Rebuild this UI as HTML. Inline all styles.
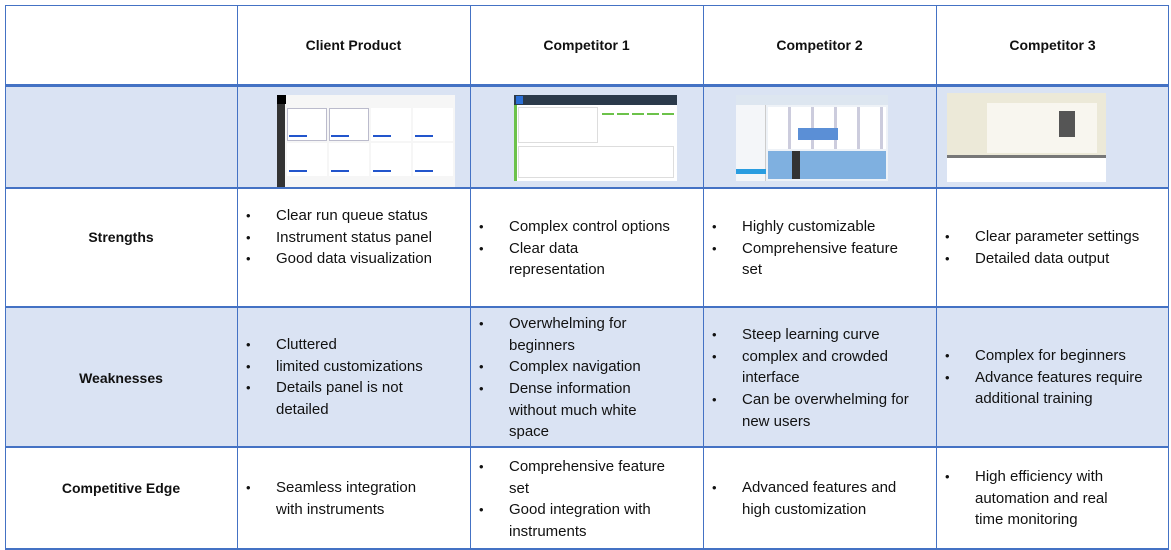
<!DOCTYPE html>
<html><head><meta charset="utf-8"><style>
*{margin:0;padding:0;box-sizing:border-box}
body{width:1171px;height:550px;background:#fff;position:relative;overflow:hidden;font-family:"Liberation Sans",sans-serif;color:#111}
.band{position:absolute;left:5px;width:1164px;background:#dae3f3}
.h{position:absolute;background:#4472c4}
.v{position:absolute;background:#4472c4;width:1px;top:5px;height:545px}
.t{position:absolute;font-size:15px;line-height:20px;white-space:nowrap}
.b{position:absolute;font-size:14px;font-weight:bold;text-align:center;line-height:20px}
.dot{position:absolute;font-size:13px;line-height:20px}
.img{position:absolute;background:#fff;overflow:hidden}
</style></head><body>
<div class="band" style="top:86px;height:102px"></div>
<div class="band" style="top:307px;height:140px"></div>
<div class="h" style="left:5px;width:1164px;top:5px;height:1px"></div>
<div class="h" style="left:5px;width:1164px;top:84px;height:3px"></div>
<div class="h" style="left:5px;width:1164px;top:187px;height:2px"></div>
<div class="h" style="left:5px;width:1164px;top:306px;height:2px"></div>
<div class="h" style="left:5px;width:1164px;top:446px;height:2px"></div>
<div class="h" style="left:5px;width:1164px;top:548px;height:2px"></div>
<div class="v" style="left:5px"></div>
<div class="v" style="left:237px"></div>
<div class="v" style="left:470px"></div>
<div class="v" style="left:703px"></div>
<div class="v" style="left:936px"></div>
<div class="v" style="left:1168px"></div>

<div class="b" style="left:237px;width:233px;top:35px">Client Product</div>
<div class="b" style="left:470px;width:233px;top:35px">Competitor 1</div>
<div class="b" style="left:703px;width:233px;top:35px">Competitor 2</div>
<div class="b" style="left:936px;width:233px;top:35px">Competitor 3</div>
<div class="b" style="left:5px;width:232px;top:227px">Strengths</div>
<div class="b" style="left:5px;width:232px;top:368px">Weaknesses</div>
<div class="b" style="left:5px;width:232px;top:478px">Competitive Edge</div>

<!-- images -->
<div class="img" style="left:277px;top:95px;width:178px;height:92px;background:#f6f6f6">
 <div style="position:absolute;left:0;top:0;width:9px;height:9px;background:#000"></div>
 <div style="position:absolute;left:0;top:9px;width:8px;height:83px;background:#333"></div>
 <div style="position:absolute;left:10px;top:13px;width:40px;height:33px;background:#fff;border:1px solid #bbc"></div>
 <div style="position:absolute;left:52px;top:13px;width:40px;height:33px;background:#fff;border:1px solid #bbc"></div>
 <div style="position:absolute;left:94px;top:13px;width:40px;height:33px;background:#fff"></div>
 <div style="position:absolute;left:136px;top:13px;width:40px;height:33px;background:#fff"></div>
 <div style="position:absolute;left:10px;top:48px;width:40px;height:33px;background:#fff"></div>
 <div style="position:absolute;left:52px;top:48px;width:40px;height:33px;background:#fff"></div>
 <div style="position:absolute;left:94px;top:48px;width:40px;height:33px;background:#fff"></div>
 <div style="position:absolute;left:136px;top:48px;width:40px;height:33px;background:#fff"></div>
 <div style="position:absolute;left:12px;top:40px;width:160px;height:2px;background:repeating-linear-gradient(90deg,#2255cc 0 18px,transparent 18px 42px)"></div>
 <div style="position:absolute;left:12px;top:75px;width:160px;height:2px;background:repeating-linear-gradient(90deg,#2255cc 0 18px,transparent 18px 42px)"></div>
</div>
<div class="img" style="left:514px;top:95px;width:163px;height:86px">
 <div style="position:absolute;left:0;top:0;width:163px;height:10px;background:#2b3a4a"></div>
 <div style="position:absolute;left:2px;top:1px;width:7px;height:8px;background:#2a6fd6"></div>
 <div style="position:absolute;left:0;top:10px;width:3px;height:76px;background:#6cc24a"></div>
 <div style="position:absolute;left:4px;top:12px;width:80px;height:36px;border:1px solid #ddd"></div>
 <div style="position:absolute;left:88px;top:18px;width:72px;height:2px;background:repeating-linear-gradient(90deg,#6cc24a 0 12px,transparent 12px 15px)"></div>
 <div style="position:absolute;left:4px;top:51px;width:156px;height:32px;border:1px solid #ddd"></div>
</div>
<div class="img" style="left:736px;top:95px;width:152px;height:86px;background:#eef2f7">
 <div style="position:absolute;left:0;top:0;width:152px;height:10px;background:#dde6f0"></div>
 <div style="position:absolute;left:0;top:10px;width:30px;height:76px;background:#f4f6f9;border-right:1px solid #ccc"></div>
 <div style="position:absolute;left:32px;top:12px;width:118px;height:42px;background:repeating-linear-gradient(90deg,#fff 0 20px,#ccd 20px 23px)"></div>
 <div style="position:absolute;left:62px;top:33px;width:40px;height:12px;background:#5b8fd6"></div>
 <div style="position:absolute;left:32px;top:56px;width:118px;height:28px;background:#7fb0e0"></div>
 <div style="position:absolute;left:56px;top:56px;width:8px;height:28px;background:#333"></div>
 <div style="position:absolute;left:0;top:74px;width:30px;height:5px;background:#2a9de0"></div>
</div>
<div class="img" style="left:947px;top:93px;width:159px;height:89px;background:#fff">
 <div style="position:absolute;left:0;top:0;width:159px;height:62px;background:#ece9d8"></div>
 <div style="position:absolute;left:40px;top:10px;width:110px;height:50px;background:#f8f6ef"></div>
 <div style="position:absolute;left:112px;top:18px;width:16px;height:26px;background:#555"></div>
 <div style="position:absolute;left:0;top:62px;width:159px;height:3px;background:#777"></div>
</div>

<!-- Strengths -->
<div class="dot" style="left:246px;top:206px">•</div><div class="t" style="left:276px;top:206px">Clear run queue status</div>
<div class="dot" style="left:246px;top:228px">•</div><div class="t" style="left:276px;top:228px">Instrument status panel</div>
<div class="dot" style="left:246px;top:249px">•</div><div class="t" style="left:276px;top:249px">Good data visualization</div>

<div class="dot" style="left:479px;top:217px">•</div><div class="t" style="left:509px;top:217px">Complex control options</div>
<div class="dot" style="left:479px;top:239px">•</div><div class="t" style="left:509px;top:239px">Clear data</div>
<div class="t" style="left:509px;top:260px">representation</div>

<div class="dot" style="left:712px;top:217px">•</div><div class="t" style="left:742px;top:217px">Highly customizable</div>
<div class="dot" style="left:712px;top:239px">•</div><div class="t" style="left:742px;top:239px">Comprehensive feature</div>
<div class="t" style="left:742px;top:260px">set</div>

<div class="dot" style="left:945px;top:227px">•</div><div class="t" style="left:975px;top:227px">Clear parameter settings</div>
<div class="dot" style="left:945px;top:249px">•</div><div class="t" style="left:975px;top:249px">Detailed data output</div>

<!-- Weaknesses -->
<div class="dot" style="left:246px;top:335px">•</div><div class="t" style="left:276px;top:335px">Cluttered</div>
<div class="dot" style="left:246px;top:357px">•</div><div class="t" style="left:276px;top:357px">limited customizations</div>
<div class="dot" style="left:246px;top:378px">•</div><div class="t" style="left:276px;top:378px">Details panel is not</div>
<div class="t" style="left:276px;top:400px">detailed</div>

<div class="dot" style="left:479px;top:314px">•</div><div class="t" style="left:509px;top:314px">Overwhelming for</div>
<div class="t" style="left:509px;top:336px">beginners</div>
<div class="dot" style="left:479px;top:357px">•</div><div class="t" style="left:509px;top:357px">Complex navigation</div>
<div class="dot" style="left:479px;top:379px">•</div><div class="t" style="left:509px;top:379px">Dense information</div>
<div class="t" style="left:509px;top:401px">without much white</div>
<div class="t" style="left:509px;top:422px">space</div>

<div class="dot" style="left:712px;top:325px">•</div><div class="t" style="left:742px;top:325px">Steep learning curve</div>
<div class="dot" style="left:712px;top:347px">•</div><div class="t" style="left:742px;top:347px">complex and crowded</div>
<div class="t" style="left:742px;top:368px">interface</div>
<div class="dot" style="left:712px;top:390px">•</div><div class="t" style="left:742px;top:390px">Can be overwhelming for</div>
<div class="t" style="left:742px;top:412px">new users</div>

<div class="dot" style="left:945px;top:346px">•</div><div class="t" style="left:975px;top:346px">Complex for beginners</div>
<div class="dot" style="left:945px;top:368px">•</div><div class="t" style="left:975px;top:368px">Advance features require</div>
<div class="t" style="left:975px;top:389px">additional training</div>

<!-- Edge -->
<div class="dot" style="left:246px;top:478px">•</div><div class="t" style="left:276px;top:478px">Seamless integration</div>
<div class="t" style="left:276px;top:500px">with instruments</div>

<div class="dot" style="left:479px;top:457px">•</div><div class="t" style="left:509px;top:457px">Comprehensive feature</div>
<div class="t" style="left:509px;top:479px">set</div>
<div class="dot" style="left:479px;top:500px">•</div><div class="t" style="left:509px;top:500px">Good integration with</div>
<div class="t" style="left:509px;top:522px">instruments</div>

<div class="dot" style="left:712px;top:478px">•</div><div class="t" style="left:742px;top:478px">Advanced features and</div>
<div class="t" style="left:742px;top:500px">high customization</div>

<div class="dot" style="left:945px;top:467px">•</div><div class="t" style="left:975px;top:467px">High efficiency with</div>
<div class="t" style="left:975px;top:489px">automation and real</div>
<div class="t" style="left:975px;top:510px">time monitoring</div>
</body></html>
